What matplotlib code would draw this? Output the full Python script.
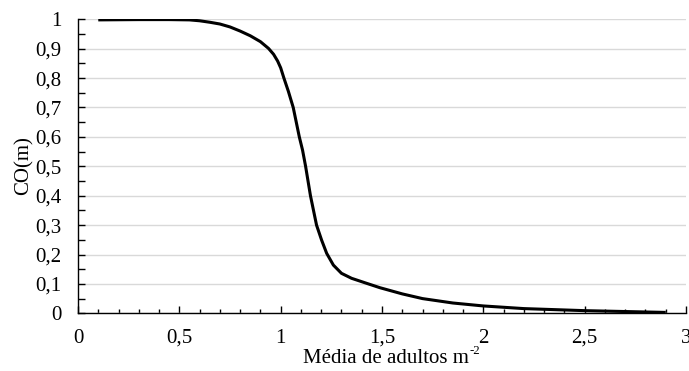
import matplotlib.pyplot as plt
from matplotlib.ticker import MultipleLocator, FuncFormatter

# curve
media_adultos = [0.1, 0.3, 0.45, 0.55, 0.6, 0.65, 0.7, 0.75, 0.8, 0.85,
                 0.9, 0.94, 0.965, 0.985, 1.0, 1.016, 1.038, 1.062, 1.092, 1.108,
                 1.123, 1.147, 1.177, 1.202, 1.227, 1.26, 1.30, 1.35, 1.424, 1.49,
                 1.6, 1.7, 1.85, 2.0, 2.2, 2.5, 2.7, 2.9]
co_m = [0.998, 0.999, 0.999, 0.998, 0.995, 0.99, 0.984, 0.974, 0.960, 0.944,
        0.924, 0.901, 0.881, 0.858, 0.835, 0.8, 0.755, 0.7, 0.6, 0.555,
        0.5, 0.4, 0.3, 0.249, 0.204, 0.164, 0.136, 0.119, 0.102, 0.087,
        0.066, 0.05, 0.035, 0.025, 0.016, 0.009, 0.006, 0.003]

plt.rcParams['font.family'] = ['Liberation Serif', 'DejaVu Serif']
FS = 15

fig = plt.figure(figsize=(6.89, 3.71), dpi=100)
ax = fig.add_axes([78 / 689, 1 - 313.3 / 371, 608 / 689, 294 / 371])

ax.plot(media_adultos, co_m, color='black', linewidth=2.2,
        solid_joinstyle='round', solid_capstyle='butt')

ax.set_xlim(0, 3)
ax.set_ylim(0, 1)
ax.xaxis.set_major_locator(MultipleLocator(0.5))
ax.xaxis.set_minor_locator(MultipleLocator(0.1))
ax.yaxis.set_major_locator(MultipleLocator(0.1))
ax.yaxis.set_minor_locator(MultipleLocator(0.05))

fmt = FuncFormatter(lambda v, p: ('%g' % round(v, 2)).replace('.', ','))
ax.xaxis.set_major_formatter(fmt)
ax.yaxis.set_major_formatter(fmt)

ax.tick_params(axis='both', which='both', direction='in', labelsize=FS, width=1, colors='black')
ax.tick_params(axis='y', which='both', length=5, pad=12)
ax.tick_params(axis='x', which='major', length=5, pad=11)
ax.tick_params(axis='x', which='minor', length=3)

ax.grid(axis='y', which='major', color='#d9d9d9', linewidth=1)
ax.set_axisbelow(True)
for s in ['top', 'right']:
    ax.spines[s].set_visible(False)
for s in ['left', 'bottom']:
    ax.spines[s].set_linewidth(1)

# axis titles (superscript written with a plain hyphen, as in the original)
lbl = fig.text(303 / 689, 1 - 363 / 371, 'Média de adultos m', fontsize=FS,
               ha='left', va='baseline')
fig.text(24 / 689, 1 - 166 / 371, 'CO(m)', fontsize=FS, rotation=90,
         ha='center', va='center')

fig.canvas.draw()
bb = lbl.get_window_extent()
fig.text((bb.x1 + 1) / 689, (371 - 354.5) / 371, '-2', fontsize=FS * 0.62,
         ha='left', va='baseline')

fig.savefig('out.png', dpi=100)
